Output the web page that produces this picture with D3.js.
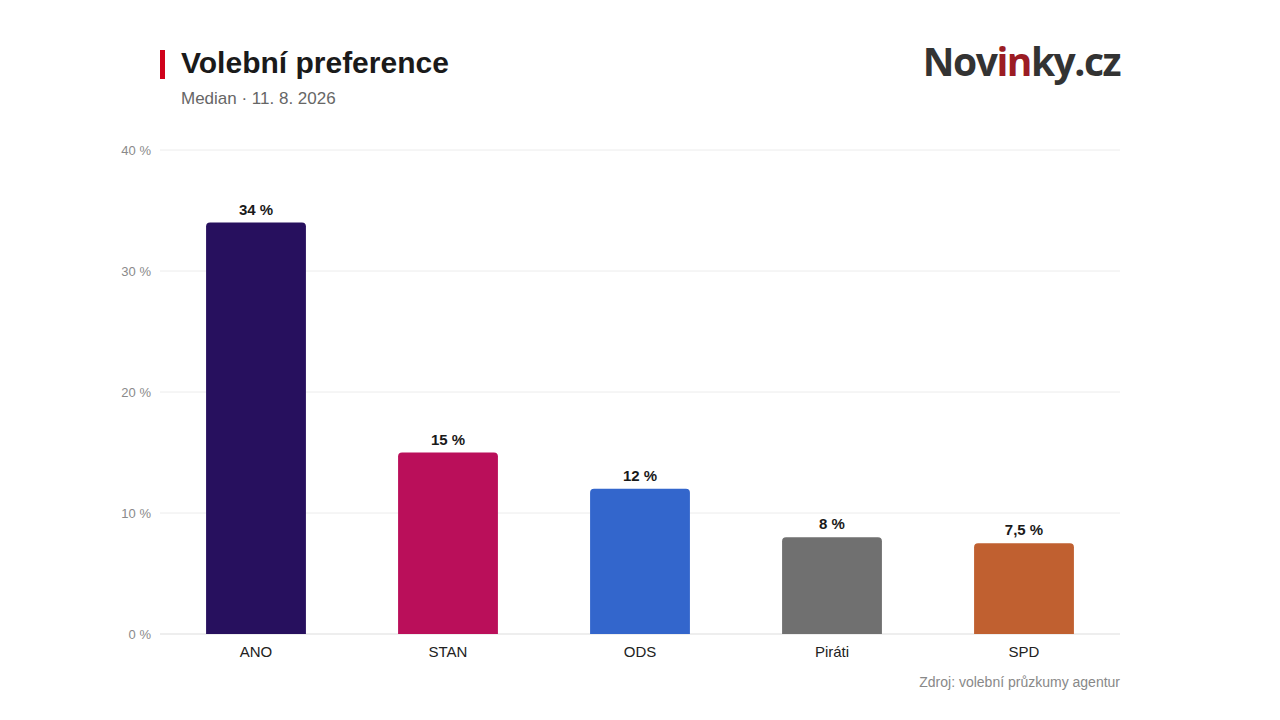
<!DOCTYPE html>
<html>
<head>
<meta charset="utf-8">
<script src="https://cdn.jsdelivr.net/npm/d3@7"></script>
<style>
  body { margin: 0; background: #fff; }
  svg text { font-family: "Liberation Sans", Arial, Helvetica, sans-serif; }
</style>
</head>
<body>
<div id="chart"></div>
<script>
const parties = ["ANO", "STAN", "ODS", "Piráti", "SPD"];
const values = [34, 15, 12, 8, 7.5];
const colors = ["#27105e", "#ba0f5a", "#3366cc", "#707070", "#c06030"];
const yTicks = [0, 10, 20, 30, 40];

const width = 1280, height = 720;
const margin = { top: 150, right: 160, bottom: 86, left: 160 };

const svg = d3.select("#chart").append("svg")
    .attr("width", width)
    .attr("height", height);

const x = d3.scaleBand()
    .domain(parties)
    .range([margin.left, width - margin.right])
    .paddingInner(0.48)
    .paddingOuter(0.24);

const y = d3.scaleLinear()
    .domain([0, 40])
    .range([height - margin.bottom, margin.top]);

const fmt = v => String(v).replace(".", ",") + " %";

// header
svg.append("rect")
    .attr("x", 160).attr("y", 50)
    .attr("width", 5).attr("height", 29)
    .attr("fill", "#d0021b");
svg.append("text")
    .attr("x", 181).attr("y", 73)
    .attr("font-size", 30).attr("font-weight", "bold")
    .attr("fill", "#1a1a1a")
    .text("Volební preference");
svg.append("text")
    .attr("x", 181).attr("y", 104)
    .attr("font-size", 17)
    .attr("fill", "#666")
    .text("Median · 11. 8. 2026");

const logo = svg.append("text")
    .attr("x", 1120).attr("y", 76)
    .attr("text-anchor", "end")
    .attr("font-size", 39).attr("font-weight", "bold")
    .attr("letter-spacing", -1.5)
    .style("font-family", "'Open Sans', 'DejaVu Sans', sans-serif")
    .attr("fill", "#333");
logo.append("tspan").text("Nov");
logo.append("tspan").attr("fill", "#9b1c24").text("in");
logo.append("tspan").text("ky.cz");

// grid + y labels
svg.append("g")
    .selectAll("line")
    .data(yTicks)
    .join("line")
    .attr("x1", margin.left).attr("x2", width - margin.right)
    .attr("y1", d => y(d)).attr("y2", d => y(d))
    .attr("stroke", d => d === 0 ? "#ddd" : "#ececec")
    .attr("stroke-width", 1);

svg.append("g")
    .selectAll("text")
    .data(yTicks)
    .join("text")
    .attr("x", 151).attr("y", d => y(d) + 4.5)
    .attr("text-anchor", "end")
    .attr("font-size", 13)
    .attr("fill", "#8a8a8a")
    .text(d => d + " %");

// bars with rounded top corners
const r = 4;
svg.append("g")
    .selectAll("path")
    .data(parties)
    .join("path")
    .attr("fill", (d, i) => colors[i])
    .attr("d", (d, i) => {
        const x0 = x(d), x1 = x(d) + x.bandwidth();
        const top = y(values[i]), base = y(0);
        return `M${x0},${base}V${top + r}Q${x0},${top} ${x0 + r},${top}H${x1 - r}Q${x1},${top} ${x1},${top + r}V${base}Z`;
    });

// value labels
svg.append("g")
    .selectAll("text")
    .data(parties)
    .join("text")
    .attr("x", d => x(d) + x.bandwidth() / 2)
    .attr("y", (d, i) => y(values[i]) - 8)
    .attr("text-anchor", "middle")
    .attr("font-size", 15).attr("font-weight", "bold")
    .attr("fill", "#1a1a1a")
    .text((d, i) => fmt(values[i]));

// category labels
svg.append("g")
    .selectAll("text")
    .data(parties)
    .join("text")
    .attr("x", d => x(d) + x.bandwidth() / 2)
    .attr("y", y(0) + 23)
    .attr("text-anchor", "middle")
    .attr("font-size", 15)
    .attr("fill", "#222")
    .text(d => d);

svg.append("text")
    .attr("x", 1120).attr("y", 687)
    .attr("text-anchor", "end")
    .attr("font-size", 14)
    .attr("fill", "#888")
    .text("Zdroj: volební průzkumy agentur");
</script>
</body>
</html>
